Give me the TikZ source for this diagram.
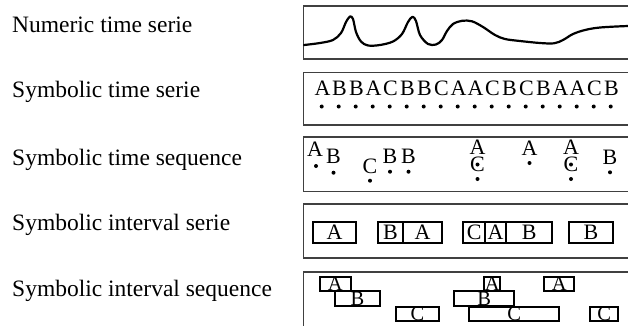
\documentclass[tikz,border=0pt]{standalone}
\usepackage{fontspec}
\setmainfont{Liberation Serif}
\begin{document}
\begin{tikzpicture}[x=1pt,y=-1pt,
  lbl/.style={anchor=base west,inner sep=0pt,font=\fontsize{23.5}{26}\selectfont},
  frame/.style={draw=black!75,line width=1.4pt},
  sym/.style={anchor=base,inner sep=0pt,font=\fontsize{22}{24}\selectfont},
  dotm/.style={fill=black},
  ivl/.style={draw=black,line width=2.2pt,inner sep=0pt,font=\fontsize{22}{24}\selectfont},
  ivs/.style={draw=black,line width=2pt,inner sep=0pt,font=\fontsize{20.5}{22}\selectfont}]
\useasboundingbox (0,0) rectangle (628,325);
\clip (0,0) rectangle (628,325);
% labels
\node[lbl] (l1) at (12,32.7) {Numeric time serie};
\node[lbl] (l2) at (12,97.7) {Symbolic time serie};
\node[lbl] (l3) at (12,165) {Symbolic time sequence};
\node[lbl] (l4) at (12,230.7) {Symbolic interval serie};
\node[lbl] (l5) at (12,296) {Symbolic interval sequence};
% frames
\draw[frame] (303.5,6) rectangle (640,59);
\draw[frame] (303.5,72.5) rectangle (640,125);
\draw[frame] (303.5,137) rectangle (640,191.5);
\draw[frame] (303.5,204) rectangle (640,258);
\draw[frame] (303.5,272) rectangle (640,340);
% numeric curve
\draw[line width=2.2pt,line cap=round,line join=round] plot[smooth,tension=0.55] coordinates {
 (304,45) (320,43) (333,40) (341,33) (346,22) (350,16.5) (353,19) (356,32) (361,41.5) (368,45.5)
 (380,45) (393,41.5) (402,34) (408,22) (412.5,16.8) (416,21) (420,35) (428,44) (436,44.5)
 (442,40) (447,31) (453,24) (462,20.8) (472,21.3) (483,27) (495,35) (505,39) (520,41)
 (540,43) (554,43.3) (563,40) (573,34) (585,30) (600,27.5) (628,26) (640,26)};
% symbolic time serie
\foreach \c [count=\i from 0] in {A,B,B,A,C,B,B,C,A,A,C,B,C,B,A,A,C,B} {
  \node[sym] (s\i) at (322.5+17*\i,95.7) {\c};
  \fill[dotm] (321.7+17*\i,106.5) circle (2pt);
}
% symbolic time sequence
\node[sym] (q1) at (315,156.7) {A};   \fill[dotm] (316,166) circle (2pt);
\node[sym] (q2) at (333.5,163.3) {B}; \fill[dotm] (333.5,172.7) circle (2pt);
\node[sym] (q3) at (370,173.3) {C};   \fill[dotm] (370,180.7) circle (2pt);
\node[sym] (q4) at (390,163.3) {B};   \fill[dotm] (390,171.7) circle (2pt);
\node[sym] (q5) at (408.5,163.3) {B}; \fill[dotm] (408.5,171.7) circle (2pt);
\node[sym] (q6) at (477.5,154.3) {A};
\node[sym] (q7) at (477.5,171.7) {C};
\fill[dotm] (477.5,164.5) circle (2pt);
\fill[dotm] (477.5,179) circle (2pt);
\node[sym] (q8) at (529.5,155) {A};   \fill[dotm] (529.5,163) circle (2pt);
\node[sym] (q9) at (571,154.3) {A};
\node[sym] (q10) at (571,171.7) {C};
\fill[dotm] (571,164.5) circle (2pt);
\fill[dotm] (571,179) circle (2pt);
\node[sym] (q11) at (610,164.3) {B}; \fill[dotm] (610,172.3) circle (2pt);
% symbolic interval serie
\node[ivl,minimum width=42.7pt,minimum height=21.6pt] (i1) at (334.65,232.5) {A};
\node[ivl,minimum width=25.6pt,minimum height=21.6pt] (i2) at (390.5,232.5) {B};
\node[ivl,minimum width=38.4pt,minimum height=21.6pt] (i3) at (422.5,232.5) {A};
\node[ivl,minimum width=21.7pt,minimum height=21.6pt] (i4) at (474.15,232.5) {C};
\node[ivl,minimum width=21pt,minimum height=21.6pt] (i5) at (495.5,232.5) {A};
\node[ivl,minimum width=46.3pt,minimum height=21.6pt] (i6) at (529.15,232.5) {B};
\node[ivl,minimum width=43.4pt,minimum height=21.6pt] (i7) at (591,232.5) {B};
% symbolic interval sequence
\node[ivs,minimum width=30.7pt,minimum height=14.5pt] (j1) at (335.35,283.75) {A};
\node[ivs,minimum width=45pt,minimum height=14.7pt] (j2) at (357.5,298.35) {B};
\node[ivs,minimum width=43.6pt,minimum height=13.8pt] (j3) at (417.5,313.6) {C};
\node[ivs,minimum width=15.7pt,minimum height=14.5pt] (j4) at (492.15,283.75) {A};
\node[ivs,minimum width=60pt,minimum height=14.7pt] (j5) at (484.3,298.35) {B};
\node[ivs,minimum width=89.7pt,minimum height=13.8pt] (j6) at (514.15,313.6) {C};
\node[ivs,minimum width=29.7pt,minimum height=14.5pt] (j7) at (559.15,283.75) {A};
\node[ivs,minimum width=28.3pt,minimum height=13.8pt] (j8) at (604.15,313.6) {C};
\end{tikzpicture}
\end{document}
